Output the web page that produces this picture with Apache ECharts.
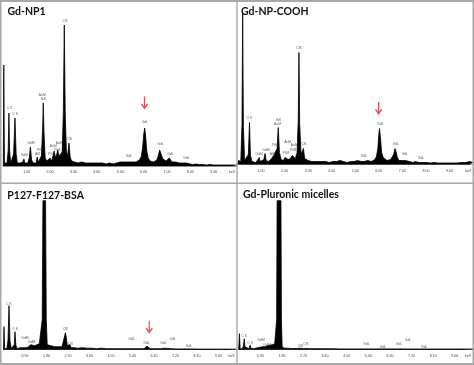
<!DOCTYPE html>
<html><head><meta charset="utf-8">
<script src="https://cdn.jsdelivr.net/npm/echarts@6/dist/echarts.min.js"></script>
<style>html,body{margin:0;padding:0;background:#fff}#c{width:474px;height:365px}</style>
</head><body><div id="c"></div>
<script>
// ---------- data ----------
const panelTitles = ['Gd-NP1', 'Gd-NP-COOH', 'P127-F127-BSA', 'Gd-Pluronic micelles'];
const axisMax = [10, 10, 9.75, 9.76];
const tickInterval = [1, 1, 0.9, 0.9];
const countMax = [160, 159.5, 160, 160];

// spectra: [energy keV, counts (arb.)]
const spectrumGdNP1 = [
[0,0],[0.02,101],[0.05,3],[0.10,2],[0.16,3],[0.21,16],[0.24,53],[0.27,15],[0.32,3],[0.38,2],[0.44,12],[0.50,48],[0.55,12],[0.60,3],[0.66,2],[0.72,3],[0.78,2],[0.84,4],[0.88,7],[0.92,3],[0.98,2],[1.05,3],[1.11,8],[1.16,19],[1.21,6],[1.28,3],[1.34,4],[1.40,3],[1.45,9],[1.50,4],[1.56,5],[1.63,10],[1.68,35],[1.71,63],[1.74,34],[1.79,8],[1.86,5],[1.93,6],[2.00,8],[2.06,5],[2.13,10],[2.18,15],[2.23,8],[2.29,12],[2.33,16],[2.38,10],[2.45,8],[2.52,14],[2.57,55],[2.61,141],[2.65,52],[2.70,14],[2.75,10],[2.81,23],[2.86,9],[2.92,5],[2.98,6],[3.05,4],[3.12,5],[3.20,3],[3.27,5],[3.35,4],[3.42,6],[3.50,3],[3.58,5],[3.65,3],[3.73,4],[3.80,3],[3.88,5],[3.95,3],[4.03,4],[4.10,3],[4.18,5],[4.25,3],[4.33,4],[4.40,2],[4.48,4],[4.55,3],[4.63,4],[4.70,2],[4.78,4],[4.85,3],[4.93,3],[5.00,4],[5.08,3],[5.15,4],[5.22,3],[5.28,4],[5.33,6],[5.38,4],[5.45,3],[5.53,4],[5.60,3],[5.68,4],[5.75,4],[5.82,6],[5.90,9],[5.96,18],[6.01,32],[6.05,38],[6.09,30],[6.14,15],[6.20,8],[6.28,5],[6.35,5],[6.43,4],[6.50,5],[6.57,6],[6.63,10],[6.69,16],[6.73,18],[6.77,14],[6.83,7],[6.90,5],[6.97,5],[7.04,6],[7.10,8],[7.15,6],[7.22,4],[7.30,3],[7.38,4],[7.45,3],[7.53,3],[7.60,2],[7.68,3],[7.76,5],[7.82,3],[7.90,2],[8.00,2],[8.10,1.5],[8.25,2],[8.40,1.5],[8.55,1.5],[8.70,1],[8.85,1.5],[9.00,1],[9.20,1],[9.40,1],[9.60,1],[9.80,1],[10,1]
];
const spectrumGdNPCOOH = [
[0,0],[0.04,4],[0.08,2],[0.14,3],[0.19,40],[0.22,151],[0.25,38],[0.30,4],[0.38,3],[0.46,10],[0.51,42],[0.55,9],[0.62,3],[0.70,3],[0.78,2],[0.86,4],[0.92,7],[0.97,3],[1.05,3],[1.12,5],[1.17,11],[1.22,4],[1.32,3],[1.40,4],[1.45,6],[1.50,4],[1.56,10],[1.62,8],[1.68,16],[1.73,37],[1.78,12],[1.85,5],[1.95,4],[2.02,7],[2.08,8],[2.15,5],[2.25,6],[2.32,9],[2.38,7],[2.46,6],[2.53,12],[2.58,45],[2.61,112],[2.64,40],[2.70,10],[2.75,8],[2.80,16],[2.85,6],[2.93,5],[3.00,4],[3.08,5],[3.15,3],[3.23,4],[3.30,3],[3.38,5],[3.45,3],[3.53,4],[3.60,3],[3.68,4],[3.75,3],[3.83,4],[3.90,2],[3.98,4],[4.05,3],[4.13,4],[4.20,3],[4.28,3],[4.35,4],[4.43,3],[4.50,3],[4.58,4],[4.65,2],[4.73,3],[4.80,3],[4.88,4],[4.95,3],[5.03,3],[5.10,4],[5.18,3],[5.25,3],[5.32,5],[5.38,3],[5.45,3],[5.53,4],[5.60,3],[5.68,3],[5.75,4],[5.83,5],[5.90,8],[5.96,16],[6.00,30],[6.03,36],[6.07,27],[6.12,12],[6.19,7],[6.27,5],[6.35,4],[6.43,4],[6.50,5],[6.57,6],[6.63,10],[6.69,16],[6.73,13],[6.79,7],[6.86,4],[6.93,4],[7.01,4],[7.08,6],[7.14,4],[7.22,3],[7.30,3],[7.38,3],[7.46,2],[7.55,3],[7.63,2],[7.70,2],[7.77,3],[7.84,2],[7.92,2],[8.05,2],[8.20,1.5],[8.35,2],[8.50,1.5],[8.70,1.5],[8.90,1.5],[9.10,1.5],[9.30,1.5],[9.50,2],[9.70,2],[9.85,3],[10,2]
];
const spectrumP127 = [
[0,0],[0.02,23],[0.05,1],[0.14,1],[0.19,10],[0.23,44],[0.27,9],[0.33,1],[0.41,2],[0.45,5],[0.48,18],[0.52,4],[0.58,1],[0.70,2],[0.80,2],[0.88,3],[0.95,2],[1.05,3],[1.14,5],[1.20,3],[1.30,4],[1.40,5],[1.50,6],[1.58,7],[1.62,30],[1.65,149],[1.76,149],[1.79,30],[1.83,5],[1.90,4],[1.98,4],[2.05,3],[2.15,3],[2.25,3],[2.35,3],[2.45,3],[2.52,5],[2.56,14],[2.59,17],[2.63,12],[2.67,4],[2.72,3],[2.78,5],[2.83,2],[2.95,2],[3.10,1.5],[3.30,2],[3.50,1.5],[3.70,1.5],[3.90,1],[4.10,1.5],[4.30,1],[4.50,1],[4.70,1],[4.90,1],[5.10,1],[5.30,1],[5.50,1],[5.70,1],[5.88,1],[5.95,3],[6.00,3.5],[6.06,2.5],[6.13,1],[6.30,1],[6.50,1],[6.60,1],[6.66,2],[6.72,1.5],[6.80,1],[7.00,1],[7.20,0.8],[7.50,0.8],[7.80,0.8],[8.20,0.6],[8.60,0.6],[9.00,0.6],[9.40,0.6],[9.75,0.6]
];
const spectrumPluronic = [
[0,0],[0.03,16],[0.06,1],[0.15,1],[0.20,4],[0.23,11],[0.26,3],[0.32,1],[0.42,1],[0.46,2],[0.48,4.5],[0.51,1.5],[0.60,1],[0.70,1.5],[0.80,2],[0.90,2.5],[1.00,3],[1.10,3],[1.20,4],[1.30,4.5],[1.40,5],[1.50,6],[1.55,8],[1.58,30],[1.60,149],[1.76,149],[1.78,30],[1.81,3],[1.90,1.5],[2.00,1.5],[2.20,1.2],[2.40,1.2],[2.57,1.5],[2.70,1],[2.80,1.2],[3.00,1],[3.30,1],[3.60,1],[3.90,1],[4.20,0.8],[4.50,0.8],[4.80,0.8],[5.10,0.8],[5.40,0.8],[5.70,0.8],[6.00,0.8],[6.30,0.8],[6.60,0.8],[6.90,0.8],[7.20,0.7],[7.50,0.7],[7.80,0.7],[8.10,0.7],[8.50,0.7],[9.00,0.7],[9.40,0.7],[9.76,0.7]
];
const spectra = [spectrumGdNP1, spectrumGdNPCOOH, spectrumP127, spectrumPluronic];

// peak annotations: [energy keV, counts, text]
const peakLabelsGdNP1 = [
[0.27,58,'C K'],[0.50,52,'O K'],[0.90,11,'GdM'],[1.18,23,'GdM'],[1.47,12,'AlK'],[1.57,16,'PtM'],[1.67,71,'AuM'],[1.72,67,'SiK'],[2.04,12,'PtM'],[2.14,20,'AuM'],[2.31,16,'PtM'],[2.39,23,'AuM'],[2.64,145,'ClK'],[2.82,27,'ClK'],[5.38,10,'GdL'],[6.06,44,'GdL'],[6.74,22,'GdL'],[7.15,12,'GdL'],[7.84,8,'GdL']
];
const peakLabelsGdNPCOOH = [
[0.51,46,'O K'],[0.92,10,'GdM'],[1.21,14,'GdM'],[1.48,10,'AlK'],[1.59,19,'PtM'],[1.70,40,'AuM'],[1.75,44,'SiK'],[2.06,11,'PtM'],[2.13,22,'AuM'],[2.37,14,'PtM'],[2.41,19,'AuM'],[2.61,116,'ClK'],[2.83,20,'ClK'],[5.37,8,'GdL'],[6.07,40,'GdL'],[6.73,20,'GdL'],[7.11,10,'GdL'],[7.79,6,'GdL']
];
const peakLabelsP127 = [
[0.23,46,'C K'],[0.48,21,'O K'],[0.90,12,'GdM'],[1.18,8,'GdM'],[2.60,21,'ClK'],[2.80,6,'ClK'],[5.36,11,'GdL'],[5.99,7,'GdL'],[6.69,7,'GdL'],[7.08,11,'GdL'],[7.76,4,'GdL']
];
const peakLabelsPluronic = [
[0.23,14,'C K'],[0.48,7,'O K'],[0.93,10,'GdM'],[1.18,5,'GdM'],[2.57,3.5,'ClK'],[2.80,6,'ClK'],[5.32,6,'GdL'],[6.01,3,'GdL'],[6.68,6,'GdL'],[7.05,10,'GdL'],[7.73,3,'GdL']
];
const peakLabels = [peakLabelsGdNP1, peakLabelsGdNPCOOH, peakLabelsP127, peakLabelsPluronic];

// red arrows marking the Gd L-alpha peak: [energy keV, counts]
const arrowMarks = [[6.04, 63], [5.99, 56], [6.10, 22.5], null];

// ---------- layout / style ----------
const grids = [
  {left: 3.3, top: 6, width: 233.7, height: 160},
  {left: 237.5, top: 5, width: 235.5, height: 159.5},
  {left: 3.5, top: 189.7, width: 233, height: 160},
  {left: 238.7, top: 189.7, width: 234.3, height: 160}
];
const titlePos = [[7.5, 6], [241, 6], [7.3, 190], [243, 189.5]];
const arrowPath = 'path://M4,0 L6,0 L6,11 L9.3,7.7 L10.7,9.1 L5,14.8 L-0.7,9.1 L0.7,7.7 L4,11 Z';

const chart = echarts.init(document.getElementById('c'), null, {renderer: 'canvas'});
const option = {
  backgroundColor: '#fff',
  animation: false,
  title: panelTitles.map((t, i) => ({
    text: t, left: titlePos[i][0], top: titlePos[i][1], padding: 0,
    textStyle: {fontFamily: 'Lato', fontWeight: 'bold', fontSize: 10.5, color: '#111'}
  })),
  grid: grids,
  xAxis: grids.map((g, i) => ({
    type: 'value', gridIndex: i, min: 0, max: axisMax[i], interval: tickInterval[i],
    name: 'keV', nameLocation: 'end', nameGap: -8,
    nameTextStyle: {fontFamily: 'Liberation Sans', fontSize: 3.6, color: '#444', align: 'left', verticalAlign: 'top', padding: [4, 0, 0, 0]},
    axisLine: {show: true, lineStyle: {color: '#777', width: 0.8}},
    axisTick: {show: false},
    splitLine: {show: false},
    axisLabel: {fontFamily: 'Liberation Sans', fontSize: 3.6, color: '#444', margin: 4,
      showMinLabel: false, showMaxLabel: false, formatter: v => v.toFixed(2)}
  })),
  yAxis: grids.map((g, i) => ({
    type: 'value', gridIndex: i, min: 0, max: countMax[i], show: false
  })),
  graphic: [
    {type: 'rect', shape: {x: 0, y: 0, width: 474, height: 2}, style: {fill: '#a8a8a8'}, z: 100},
    {type: 'rect', shape: {x: 0, y: 0, width: 1.5, height: 365}, style: {fill: '#a8a8a8'}, z: 100},
    {type: 'rect', shape: {x: 472.5, y: 0, width: 1.5, height: 365}, style: {fill: '#a8a8a8'}, z: 100},
    {type: 'rect', shape: {x: 0, y: 363, width: 474, height: 2}, style: {fill: '#a8a8a8'}, z: 100},
    {type: 'rect', shape: {x: 236.3, y: 0, width: 1.4, height: 365}, style: {fill: '#a8a8a8'}, z: 100},
    {type: 'rect', shape: {x: 0, y: 182.5, width: 474, height: 1.5}, style: {fill: '#a8a8a8'}, z: 100}
  ],
  series: []
};
spectra.forEach((d, i) => {
  option.series.push({
    type: 'line', xAxisIndex: i, yAxisIndex: i, data: d, showSymbol: false, silent: true,
    lineStyle: {color: '#000', width: 0.8}, areaStyle: {color: '#000', opacity: 1}, z: 2
  });
  option.series.push({
    type: 'scatter', xAxisIndex: i, yAxisIndex: i, data: peakLabels[i], symbolSize: 0, silent: true,
    label: {show: true, position: 'inside', formatter: p => p.data[2],
      fontFamily: 'Liberation Sans', fontSize: 3.4, color: '#333'}, z: 5
  });
  if (arrowMarks[i]) {
    option.series.push({
      type: 'scatter', xAxisIndex: i, yAxisIndex: i, data: [arrowMarks[i]], silent: true,
      symbol: arrowPath, symbolSize: [7, 13], itemStyle: {color: '#e3262b'}, z: 6
    });
  }
});
chart.setOption(option);
</script></body></html>
